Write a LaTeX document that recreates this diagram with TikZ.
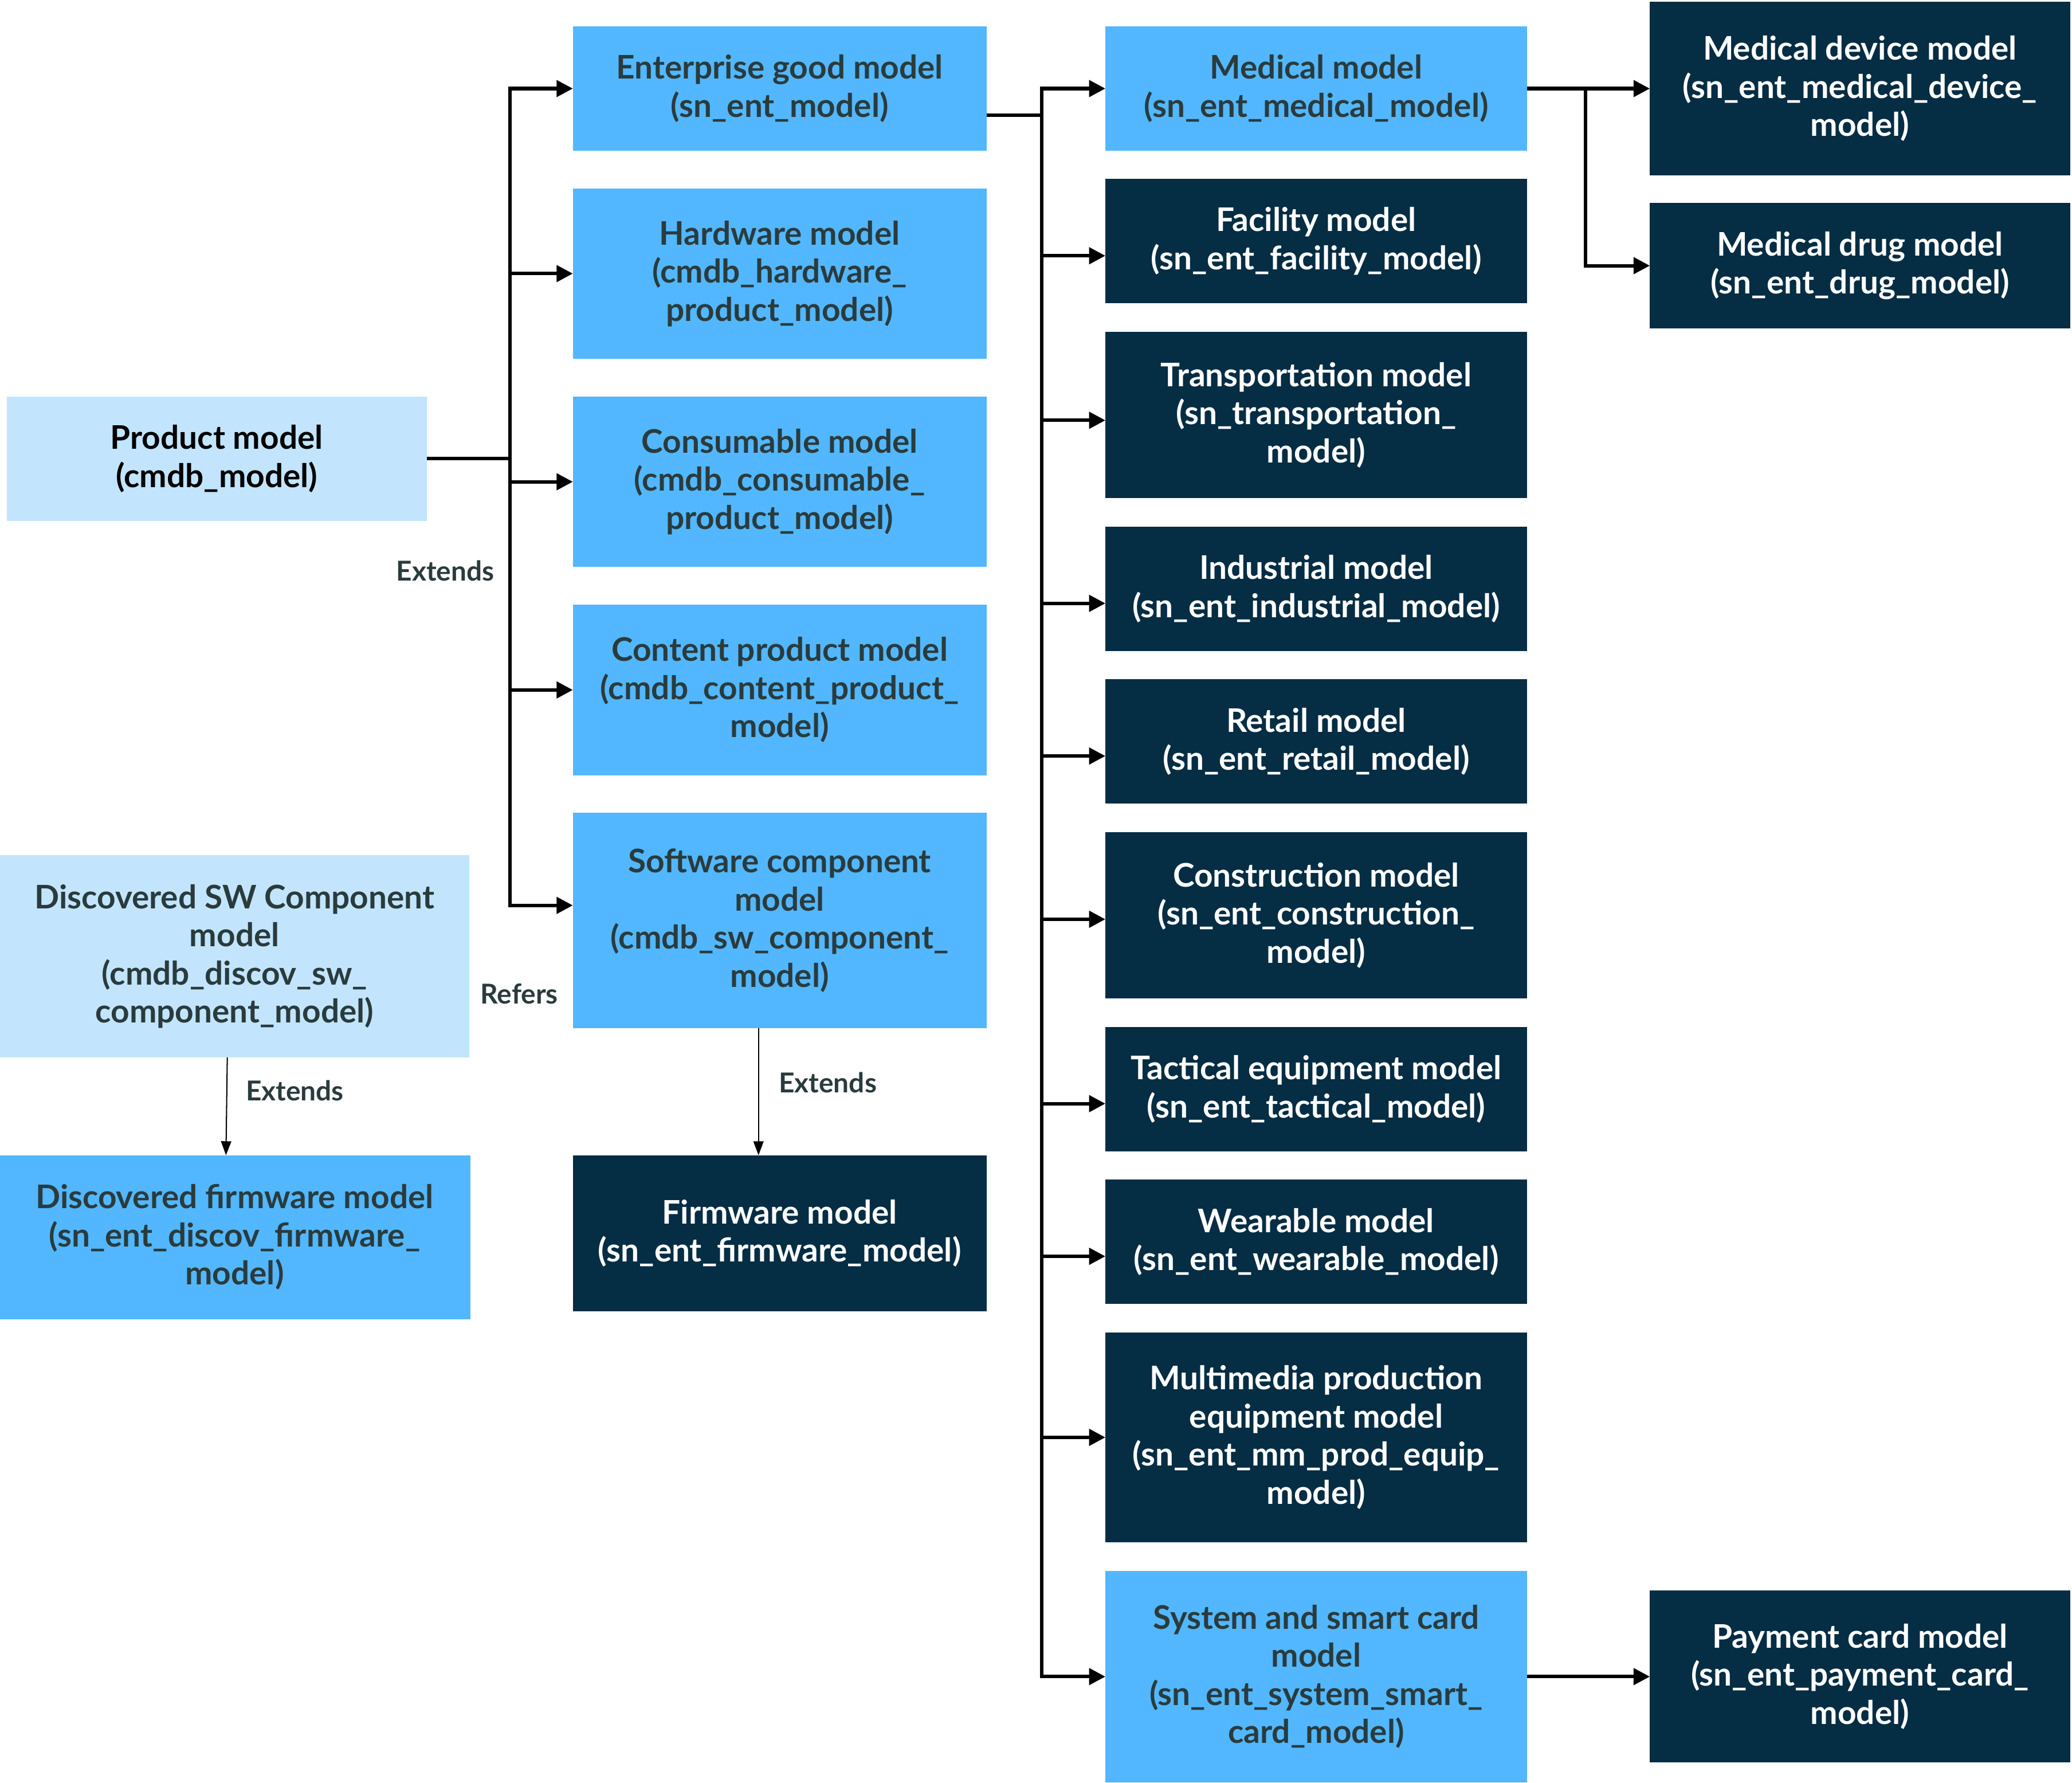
\documentclass[tikz,border=0pt]{standalone}
\usepackage{fontspec}
\setmainfont{Lato}
\usepackage{xcolor}
\usepackage{tikz}
\usetikzlibrary{arrows.meta,positioning}
\definecolor{lightblue}{HTML}{C2E5FD}
\definecolor{midblue}{HTML}{52B7FE}
\definecolor{navy}{HTML}{052D44}
\definecolor{slate}{HTML}{2A3B3D}
\tikzset{
  model/.style={
    fill=#1, text=slate, align=center,
    inner sep=4pt, outer sep=0pt,
    font=\fontsize{14}{16.4}\selectfont\bfseries,
  },
  darkmodel/.style={model=navy, text=white},
  arrow/.style={-{Triangle[length=7pt,width=7pt]}, line width=1.5pt, color=black},
  thinarrow/.style={-{Triangle[length=6pt,width=4.4pt]}, line width=0.5pt, color=black},
  lbl/.style={font=\fontsize{11.8}{14}\selectfont\bfseries, text=slate, inner sep=0pt},
}

\begin{document}
\begin{tikzpicture}[node distance=0.57cm]
  \useasboundingbox (0,0) rectangle (31.36,-26.98);

  % left column
  \node[model=lightblue, text=black,
        minimum width=6.36cm, minimum height=1.88cm] (product) at (3.28,-6.94)
    {Product model\\(cmdb\_model)};

  \node[model=lightblue,
        minimum width=7.10cm, minimum height=3.06cm] (discsw) at (3.55,-14.47)
    {Discovered SW Component\\model\\(cmdb\_discov\_sw\_\\component\_model)};

  \node[model=midblue,
        minimum width=7.14cm, minimum height=2.48cm,
        below=1.48cm of discsw] (discfw)
    {Discovered firmware model\\(sn\_ent\_discov\_firmware\_\\model)};

  % product classes
  \node[model=midblue,
        minimum width=6.26cm, minimum height=1.88cm] (enterprise) at (11.80,-1.34)
    {Enterprise good model\\(sn\_ent\_model)};

  \node[model=midblue,
        minimum width=6.26cm, minimum height=2.58cm,
        below=of enterprise] (hardware)
    {Hardware model\\(cmdb\_hardware\_\\product\_model)};

  \node[model=midblue,
        minimum width=6.26cm, minimum height=2.58cm,
        below=of hardware] (consumable)
    {Consumable model\\(cmdb\_consumable\_\\product\_model)};

  \node[model=midblue,
        minimum width=6.26cm, minimum height=2.58cm,
        below=of consumable] (content)
    {Content product model\\(cmdb\_content\_product\_\\model)};

  \node[model=midblue,
        minimum width=6.26cm, minimum height=3.26cm,
        below=of content] (software)
    {Software component\\model\\(cmdb\_sw\_component\_\\model)};

  \node[darkmodel,
        minimum width=6.26cm, minimum height=2.36cm,
        below=1.92cm of software] (firmware)
    {Firmware model\\(sn\_ent\_firmware\_model)};

  % enterprise good classes
  \node[model=midblue,
        minimum width=6.38cm, minimum height=1.88cm,
        right=1.80cm of enterprise] (medical)
    {Medical model\\(sn\_ent\_medical\_model)};

  \node[darkmodel,
        minimum width=6.38cm, minimum height=1.88cm,
        below=0.43cm of medical] (facility)
    {Facility model\\(sn\_ent\_facility\_model)};

  \node[darkmodel,
        minimum width=6.38cm, minimum height=2.52cm,
        below=0.43cm of facility] (transport)
    {Transportation model\\(sn\_transportation\_\\model)};

  \node[darkmodel,
        minimum width=6.38cm, minimum height=1.88cm,
        below=0.43cm of transport] (industrial)
    {Industrial model\\(sn\_ent\_industrial\_model)};

  \node[darkmodel,
        minimum width=6.38cm, minimum height=1.88cm,
        below=0.43cm of industrial] (retail)
    {Retail model\\(sn\_ent\_retail\_model)};

  \node[darkmodel,
        minimum width=6.38cm, minimum height=2.52cm,
        below=0.43cm of retail] (construction)
    {Construction model\\(sn\_ent\_construction\_\\model)};

  \node[darkmodel,
        minimum width=6.38cm, minimum height=1.88cm,
        below=0.43cm of construction] (tactical)
    {Tactical equipment model\\(sn\_ent\_tactical\_model)};

  \node[darkmodel,
        minimum width=6.38cm, minimum height=1.88cm,
        below=0.43cm of tactical] (wearable)
    {Wearable model\\(sn\_ent\_wearable\_model)};

  \node[darkmodel,
        minimum width=6.38cm, minimum height=3.18cm,
        below=0.43cm of wearable] (multimedia)
    {Multimedia production\\equipment model\\(sn\_ent\_mm\_prod\_equip\_\\model)};

  \node[model=midblue,
        minimum width=6.38cm, minimum height=3.20cm,
        below=0.43cm of multimedia] (smartcard)
    {System and smart card\\model\\(sn\_ent\_system\_smart\_\\card\_model)};

  % right column
  \node[darkmodel,
        minimum width=6.36cm, minimum height=2.62cm,
        right=1.86cm of medical] (meddevice)
    {Medical device model\\(sn\_ent\_medical\_device\_\\model)};

  \node[darkmodel,
        minimum width=6.36cm, minimum height=1.90cm,
        below=0.42cm of meddevice] (meddrug)
    {Medical drug model\\(sn\_ent\_drug\_model)};

  \node[darkmodel,
        minimum width=6.36cm, minimum height=2.60cm,
        right=1.86cm of smartcard] (payment)
    {Payment card model\\(sn\_ent\_payment\_card\_\\model)};

  % labels
  \node[lbl] (extends) at (6.74,-8.64) {Extends};
  \node[lbl] (refers) at (7.86,-15.04) {Refers};

  % product model -> product classes
  \foreach \n/\s in {enterprise/0, hardware/0, consumable/0, content/0, software/2.3}
    \draw[arrow] (product.east) -- ++(1.26,0) |- ([yshift=\s mm]\n.west);

  % enterprise good model -> its classes
  \foreach \n/\s in {medical/0, facility/-2.2, transport/-0.8, industrial/-2.2,
                     retail/-2.2, construction/-0.6, tactical/-2.2, wearable/-2.2,
                     multimedia/0, smartcard/0}
    \draw[arrow] ([yshift=-4mm]enterprise.east) -- ++(0.84,0) |- ([yshift=\s mm]\n.west);

  \draw[arrow] (medical.east) -- (meddevice.west);
  \draw[arrow] (medical.east) -- ++(0.89,0) |- (meddrug.west);
  \draw[arrow] (smartcard.east) -- (payment.west);

  \draw[thinarrow] ([xshift=-3.2mm]software.south)
    -- node[lbl, pos=0.43, anchor=west, xshift=3mm] (extsw) {Extends}
    ([xshift=-3.2mm]firmware.north);
  \draw[thinarrow] ([xshift=-1.1mm]discsw.south)
    -- node[lbl, pos=0.34, anchor=west, xshift=2.8mm] (extdisc) {Extends}
    ([xshift=-1.3mm]discfw.north);

\end{tikzpicture}
\end{document}
